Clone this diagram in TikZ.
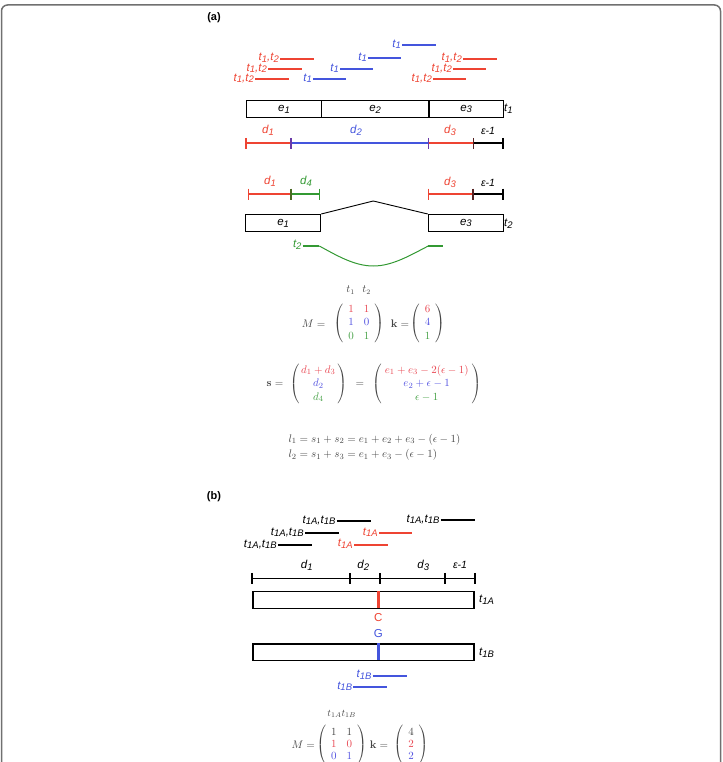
\documentclass[tikz,border=0pt]{standalone}
\usepackage{amsmath}
\usepackage[no-math]{fontspec}
\setsansfont{Liberation Sans}
\definecolor{cr}{HTML}{EE4433}
\definecolor{cb}{HTML}{4455DD}
\definecolor{cg}{HTML}{339933}
\definecolor{cpur}{HTML}{6A3AA8}
\definecolor{cdr}{HTML}{552222}
\definecolor{cdg}{HTML}{4A6A22}
\definecolor{mr}{HTML}{E8444F}
\definecolor{mb}{HTML}{5050E0}
\definecolor{mg}{HTML}{44A044}
\definecolor{mk}{HTML}{444444}
\definecolor{frame}{HTML}{707070}
\newcommand{\lb}{\fontsize{11.5}{12}\selectfont\sffamily\itshape}
\newcommand{\sbx}[1]{\raisebox{-0.3ex}{\fontsize{9.5}{10}\selectfont #1}}
\newcommand{\rdl}[6]{%
  \coordinate (#1s) at (#2,#4);
  \coordinate (#1e) at (#3,#4);
  \draw[rl,#5] (#1s) -- (#1e);
  \node[lab,text=#5,anchor=east] (#1l) at ([xshift=-1pt,yshift=1pt]#1s) {#6};}
\newcommand{\tk}[3]{\draw[tick,#3] (#1,#2-5.5) -- (#1,#2+5.5);}
\begin{document}
\begin{tikzpicture}[x=1pt,y=-1pt,
  lab/.style={font=\lb, inner sep=0pt},
  rl/.style={line width=1.8pt},
  tick/.style={line width=1.6pt},
  seg/.style={line width=1.6pt},
  exon/.style={draw, line width=1.3pt, minimum height=16.7pt, inner sep=0pt, anchor=north west, font=\lb},
  mth/.style={font=\fontsize{11}{13.4}\selectfont, inner sep=0pt, text=mk},
  mthb/.style={font=\fontsize{10.5}{12.2}\selectfont, inner sep=0pt, text=mk},
  panel/.style={font=\fontsize{11}{12}\selectfont\sffamily\bfseries, inner sep=0pt}]
\useasboundingbox (0,0) rectangle (722,762);
\draw[frame, line width=1.5pt, rounded corners=6pt] (1.5,770) -- (1.5,5) -- (720.5,5) -- (720.5,770);

% ---------------- (a) ----------------
\node[panel] (pa) at (214,18) {(a)};
\rdl{ra1}{280}{314}{58.7}{cr}{t\sbx{1},t\sbx{2}}
\rdl{ra2}{268}{302}{69.3}{cr}{t\sbx{1},t\sbx{2}}
\rdl{ra3}{255}{289}{79.3}{cr}{t\sbx{1},t\sbx{2}}
\rdl{rb1}{313}{346}{79.3}{cb}{t\sbx{1}}
\rdl{rb2}{340}{373}{69.3}{cb}{t\sbx{1}}
\rdl{rb3}{368}{401}{58.3}{cb}{t\sbx{1}}
\rdl{rb4}{402}{436}{45.3}{cb}{t\sbx{1}}
\rdl{rc1}{463}{497}{58.7}{cr}{t\sbx{1},t\sbx{2}}
\rdl{rc2}{453}{486}{69.3}{cr}{t\sbx{1},t\sbx{2}}
\rdl{rc3}{433}{466}{79.3}{cr}{t\sbx{1},t\sbx{2}}

% transcript t1
\node[exon, minimum width=74.7pt] (x1) at (246,100) {e\sbx{1}};
\node[exon, minimum width=107.6pt] (x2) at (320.7,100) {e\sbx{2}};
\node[exon, minimum width=74.4pt] (x3) at (428.3,100) {e\sbx{3}};
\node[lab, anchor=west] (tt1) at (504,108.5) {t\sbx{1}};

% d line 1
\draw[seg,cr] (246,143.3) -- (291,143.3);
\draw[seg,cb] (291,143.3) -- (428.3,143.3);
\draw[seg,cr] (428.3,143.3) -- (473.3,143.3);
\draw[seg,black] (473.3,143.3) -- (502.7,143.3);
\tk{246}{143.3}{cr}
\tk{291}{143.3}{cpur}
\tk{428.3}{143.3}{cpur}
\tk{473.3}{143.3}{cdr}
\tk{502.7}{143.3}{black}
\node[lab,text=cr] (d1a) at (268,130) {d\sbx{1}};
\node[lab,text=cb] (d2a) at (356,130) {d\sbx{2}};
\node[lab,text=cr] (d3a) at (450,130) {d\sbx{3}};
\node[lab] (eps1) at (488,131) {\fontsize{10.5}{11}\selectfont ε-1};

% d line 2
\draw[seg,cr] (248.3,194) -- (290.7,194);
\draw[seg,cg] (290.7,194) -- (319.3,194);
\draw[seg,cr] (428.3,194) -- (472.7,194);
\draw[seg,black] (472.7,194) -- (502.7,194);
\tk{248.3}{194}{cr}
\tk{290.7}{194}{cdg}
\tk{319.3}{194}{cg}
\tk{428.3}{194}{cr}
\tk{472.7}{194}{cdr}
\tk{502.7}{194}{black}
\node[lab,text=cr] (d1b) at (270,181.7) {d\sbx{1}};
\node[lab,text=cg] (d4b) at (306,181.7) {d\sbx{4}};
\node[lab,text=cr] (d3b) at (450,182.5) {d\sbx{3}};
\node[lab] (eps2) at (488,182.5) {\fontsize{10.5}{11}\selectfont ε-1};

% transcript t2
\node[exon, minimum width=75pt] (y1) at (245,214) {e\sbx{1}};
\node[exon, minimum width=75pt] (y3) at (427.7,214) {e\sbx{3}};
\coordinate (apex) at (373.3,201);
\draw[line width=0.9pt] (y1.north east) -- (apex) -- (y3.north west);
\node[lab, anchor=west] (tt2) at (504,223.5) {t\sbx{2}};

% green spliced read
\coordinate (g0) at (302.7,246);
\coordinate (g1) at (319.3,246);
\coordinate (g2) at (373.3,266);
\coordinate (g3) at (428.3,246);
\coordinate (g4) at (443.3,246);
\draw[rl,cg] (g0) -- (g1);
\draw[rl,cg] (g3) -- (g4);
\draw[cg, line width=1pt] (g1) .. controls (336,255) and (354,266) .. (g2) .. controls (392.6,266) and (410.6,255) .. (g3);
\node[lab,text=cg,anchor=east] (gl) at ([xshift=-1pt,yshift=1pt]g0) {t\sbx{2}};

% matrices (a)
\node[mth,font=\fontsize{10.5}{11}\selectfont] (h1) at (350.7,290) {$t_1$};
\node[mth,font=\fontsize{10.5}{11}\selectfont] (h2) at (366.7,290) {$t_2$};
\node[mth, anchor=east] (Meq) at (325.5,323.3) {$M =$};
\node[mth] (Ma) at (358.8,323.3) {$\left(\begin{array}{cc}\color{mr}1&\color{mr}1\\ \color{mb}1&\color{mb}0\\ \color{mg}0&\color{mg}1\end{array}\right)$};
\node[mth] (keq) at (400,323.3) {$\mathbf{k} =$};
\node[mth] (ka) at (427.5,323.3) {$\left(\begin{array}{c}\color{mr}6\\ \color{mb}4\\ \color{mg}1\end{array}\right)$};

\node[mth] (seq) at (275,384) {$\mathbf{s} =$};
\node[mth] (sa) at (318.3,384) {$\begin{pmatrix}\,\color{mr}d_1+d_3\,\\ \color{mb}d_2\\ \color{mg}d_4\end{pmatrix}$};
\node[mth] (eq2) at (360,384) {$=$};
\node[mth] (sb) at (426.7,384) {$\begin{pmatrix}\;\color{mr}e_1+e_3-2(\epsilon-1)\;\\ \color{mb}e_2+\epsilon-1\\ \color{mg}\epsilon-1\end{pmatrix}$};

\node[mth, anchor=west] (l1) at (288.3,439.3) {$l_1=s_1+s_2=e_1+e_2+e_3-(\epsilon-1)$};
\node[mth, anchor=west] (l2) at (288.3,455) {$l_2=s_1+s_3=e_1+e_3-(\epsilon-1)$};

% ---------------- (b) ----------------
\node[panel] (pb) at (214,496.7) {(b)};
\rdl{sa1}{336.7}{370.7}{521.3}{black}{t\sbx{1A},t\sbx{1B}}
\rdl{sa2}{305}{339}{533.3}{black}{t\sbx{1A},t\sbx{1B}}
\rdl{sa3}{278}{312}{545.3}{black}{t\sbx{1A},t\sbx{1B}}
\rdl{sa4}{440.7}{474.7}{520.3}{black}{t\sbx{1A},t\sbx{1B}}
\rdl{sr1}{379}{412}{533.3}{cr}{t\sbx{1A}}
\rdl{sr2}{354}{387.7}{545}{cr}{t\sbx{1A}}

\draw[seg] (251.7,578.3) -- (474.7,578.3);
\tk{251.7}{578.3}{black}
\tk{350}{578.3}{black}
\tk{380}{578.3}{black}
\tk{445}{578.3}{black}
\tk{474.7}{578.3}{black}
\node[lab] (bd1) at (306.7,565) {d\sbx{1}};
\node[lab] (bd2) at (363.3,565) {d\sbx{2}};
\node[lab] (bd3) at (423.3,565) {d\sbx{3}};
\node[lab] (beps) at (460,565) {\fontsize{10.5}{11}\selectfont ε-1};

\node[exon, minimum width=221pt] (ta) at (252.3,591) {};
\draw[cr, line width=3pt] (378.3,591) -- (378.3,607.7);
\node[lab, anchor=west] (tal) at (479,600) {t\sbx{1A}};
\node[lab, font=\fontsize{11.5}{12}\selectfont\sffamily, text=cr] (C) at (378.3,617.7) {C};
\node[lab, font=\fontsize{11.5}{12}\selectfont\sffamily, text=cb] (G) at (378.3,633.3) {G};
\node[exon, minimum width=221pt] (tb) at (252.3,643.3) {};
\draw[cb, line width=3pt] (378.3,643.3) -- (378.3,660);
\node[lab, anchor=west] (tbl) at (479,652.7) {t\sbx{1B}};
\rdl{sb1}{372.7}{406.7}{676}{cb}{t\sbx{1B}}
\rdl{sb2}{353.3}{387.3}{687.3}{cb}{t\sbx{1B}}

% matrices (b)
\node[mthb,font=\fontsize{10}{10.5}\selectfont] (hb) at (341.7,714) {$t_{1A}t_{1B}$};
\node[mthb] (Mbeq) at (303.3,745) {$M =$};
\node[mthb] (Mb) at (341.7,745) {$\left(\begin{array}{cc}1&1\\ \color{mr}1&\color{mr}0\\ \color{mb}0&\color{mb}1\end{array}\right)$};
\node[mthb] (kbeq) at (379,745) {$\mathbf{k} =$};
\node[mthb] (kb) at (411,745) {$\left(\begin{array}{c}4\\ \color{mr}2\\ \color{mb}2\end{array}\right)$};
\end{tikzpicture}
\end{document}
